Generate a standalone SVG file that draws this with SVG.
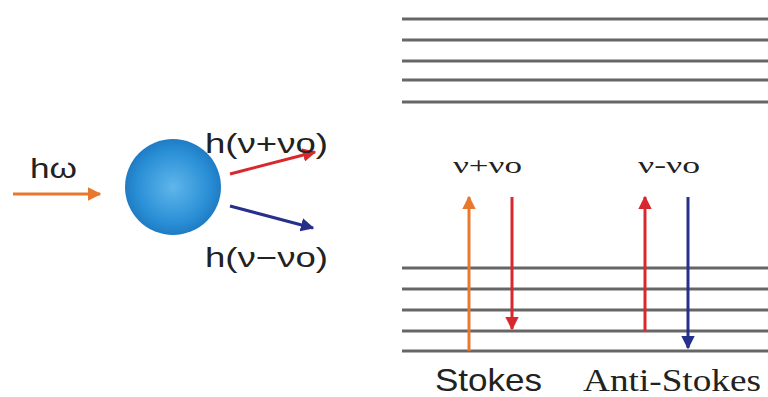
<svg xmlns="http://www.w3.org/2000/svg" width="768" height="397" viewBox="0 0 768 397">
<defs>
<radialGradient id="ball" cx="0.5" cy="0.5" r="0.5">
<stop offset="0" stop-color="#5fb6ea"/>
<stop offset="0.75" stop-color="#2a8fd6"/>
<stop offset="1" stop-color="#1f7cc4"/>
</radialGradient>
<marker id="aO" viewBox="0 0 10 10" refX="9" refY="5" markerWidth="4.5" markerHeight="4.5" orient="auto" markerUnits="strokeWidth"><path d="M0,0 L10,5 L0,10 z" fill="#e8782e"/></marker>
<marker id="aR" viewBox="0 0 10 10" refX="9" refY="5" markerWidth="4.5" markerHeight="4.5" orient="auto" markerUnits="strokeWidth"><path d="M0,0 L10,5 L0,10 z" fill="#d8282e"/></marker>
<marker id="aB" viewBox="0 0 10 10" refX="9" refY="5" markerWidth="4.5" markerHeight="4.5" orient="auto" markerUnits="strokeWidth"><path d="M0,0 L10,5 L0,10 z" fill="#26308a"/></marker>
</defs>
<style>
.lvl{stroke:#666;stroke-width:3}
.sans{font-family:"Liberation Sans",Arial,sans-serif;fill:#222}
.serif{font-family:"Liberation Serif","Times New Roman",serif;fill:#222}
.o{stroke:#e8782e;stroke-width:3;fill:none}
.r{stroke:#d8282e;stroke-width:3;fill:none}
.b{stroke:#26308a;stroke-width:3;fill:none}
</style>
<rect width="768" height="397" fill="#fff"/>
<g id="levels">
<line class="lvl" x1="402" y1="19" x2="768" y2="19" stroke="#333"/>
<line class="lvl" x1="402" y1="40" x2="768" y2="40"/>
<line class="lvl" x1="402" y1="61" x2="768" y2="61"/>
<line class="lvl" x1="402" y1="80" x2="768" y2="80"/>
<line class="lvl" x1="402" y1="102" x2="768" y2="102"/>
<line class="lvl" x1="402" y1="268" x2="768" y2="268"/>
<line class="lvl" x1="402" y1="289" x2="768" y2="289"/>
<line class="lvl" x1="402" y1="310" x2="768" y2="310"/>
<line class="lvl" x1="402" y1="331" x2="768" y2="331" stroke-width="2"/>
<line class="lvl" x1="402" y1="351" x2="572" y2="351" stroke="#444"/>
<line class="lvl" x1="572" y1="351" x2="768" y2="351" stroke-width="2" stroke="#777"/>
</g>
<g id="particle">
<circle cx="173" cy="187" r="48" fill="url(#ball)"/>
</g>
<g id="connectors">
<line class="o" x1="13" y1="194" x2="100" y2="194" marker-end="url(#aO)"/>
<line class="r" x1="230" y1="174" x2="315" y2="152" marker-end="url(#aR)"/>
<line class="b" x1="230" y1="206" x2="313" y2="228" marker-end="url(#aB)"/>
<line class="o" x1="469" y1="351" x2="469" y2="197" marker-end="url(#aO)"/>
<line class="r" x1="512" y1="197" x2="512" y2="329" marker-end="url(#aR)"/>
<line class="r" x1="645" y1="331" x2="645" y2="197" marker-end="url(#aR)"/>
<line class="b" x1="688" y1="197" x2="688" y2="348" marker-end="url(#aB)"/>
</g>
<g id="labels">
<text class="sans" x="30" y="178" font-size="28" textLength="47" lengthAdjust="spacingAndGlyphs">hω</text>
<text class="sans" x="205" y="153" font-size="28" textLength="123" lengthAdjust="spacingAndGlyphs">h(ν+νo)</text>
<text class="sans" x="205" y="267" font-size="28" textLength="123" lengthAdjust="spacingAndGlyphs">h(ν−νo)</text>
<text class="serif" x="453" y="173" font-size="24" textLength="69" lengthAdjust="spacingAndGlyphs">ν+νo</text>
<text class="serif" x="638" y="173" font-size="24" textLength="62" lengthAdjust="spacingAndGlyphs">ν-νo</text>
<text class="sans" x="435" y="391" font-size="32" textLength="107" lengthAdjust="spacingAndGlyphs">Stokes</text>
<text class="serif" x="583" y="391" font-size="32" textLength="178" lengthAdjust="spacingAndGlyphs">Anti-Stokes</text>
</g>
</svg>
